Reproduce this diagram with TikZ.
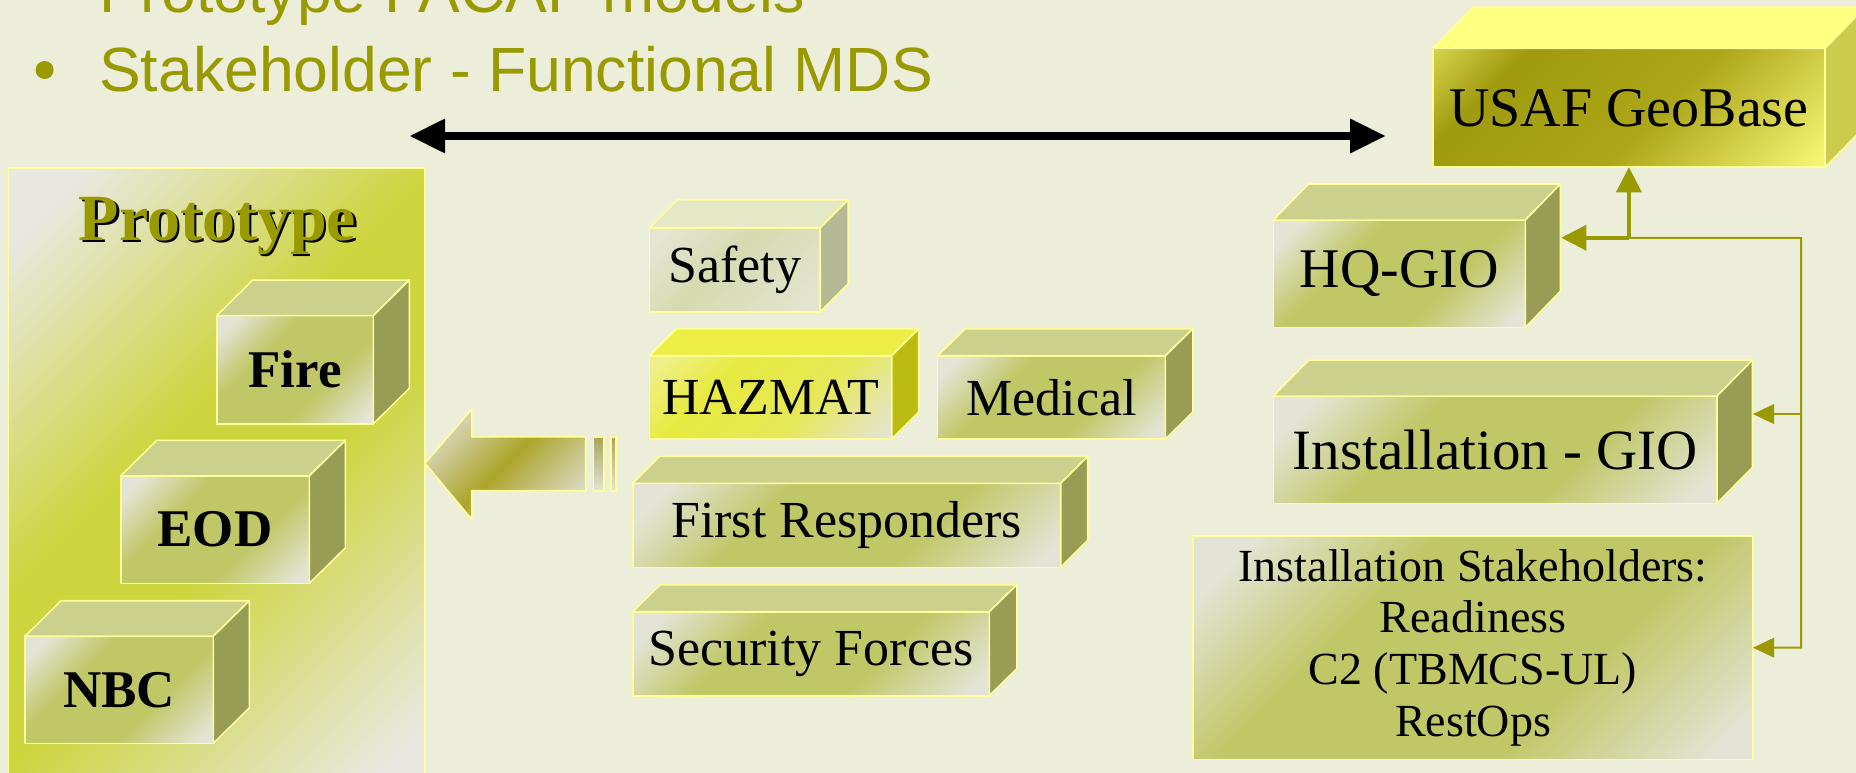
\documentclass[tikz,border=0pt]{standalone}
\usepackage{fontspec}
\setmainfont{Liberation Serif}
\newfontfamily\sansf{Liberation Sans}
\usetikzlibrary{arrows.meta,calc}

\definecolor{bg}{HTML}{EDEEDA}
\definecolor{olv}{HTML}{999900}
\definecolor{edge}{HTML}{FFFF99}
\definecolor{btop}{HTML}{CBD18C}
\definecolor{bside}{HTML}{989D56}
\definecolor{fl}{HTML}{E4E4D6}
\definecolor{fo}{HTML}{C0C766}
\definecolor{pl}{HTML}{E8E8E0}
\definecolor{py}{HTML}{CDD53E}
\definecolor{gtop}{HTML}{FFFF80}
\definecolor{gside}{HTML}{CDCB4E}
\definecolor{gl}{HTML}{D8D650}
\definecolor{gd}{HTML}{A09A0E}
\definecolor{gm}{HTML}{ACA618}
\definecolor{gy}{HTML}{F6F474}
\definecolor{htop}{HTML}{ECEE46}
\definecolor{hside}{HTML}{BABC12}
\definecolor{hl}{HTML}{EEF08A}
\definecolor{hy}{HTML}{E8EA40}
\definecolor{hm}{HTML}{E6E858}
\definecolor{stop}{HTML}{E4E8C6}
\definecolor{sside}{HTML}{B4B894}
\definecolor{sl}{HTML}{E4E6D2}
\definecolor{sm}{HTML}{D6DAB0}
\definecolor{al}{HTML}{DCDCCC}
\definecolor{ao}{HTML}{ADA52A}
\definecolor{bartop}{HTML}{A8A45C}

\pgfdeclarehorizontalshading{frontsh}{100bp}{color(0bp)=(fl); color(20bp)=(fl); color(37bp)=(fo); color(62bp)=(fo); color(82bp)=(fl); color(100bp)=(fl)}
\pgfdeclarehorizontalshading{panelsh}{100bp}{color(0bp)=(pl); color(20bp)=(pl); color(44bp)=(py); color(56bp)=(py); color(82bp)=(pl); color(100bp)=(pl)}
\pgfdeclarehorizontalshading{geosh}{100bp}{color(0bp)=(gl); color(14bp)=(gl); color(28bp)=(gd); color(55bp)=(gm); color(84bp)=(gy); color(100bp)=(gy)}
\pgfdeclarehorizontalshading{hazsh}{100bp}{color(0bp)=(hl); color(18bp)=(hl); color(35bp)=(hy); color(60bp)=(hm); color(84bp)=(fl); color(100bp)=(fl)}
\pgfdeclarehorizontalshading{safsh}{100bp}{color(0bp)=(sl); color(20bp)=(sl); color(45bp)=(sm); color(84bp)=(sl); color(100bp)=(sl)}
\pgfdeclarehorizontalshading{arrowsh}{100bp}{color(0bp)=(al); color(22bp)=(al); color(50bp)=(ao); color(78bp)=(al); color(100bp)=(al)}

\newcommand\cubefaces[5]{%
  \filldraw[face, fill=#4] (#1.north west) -- ++(#2,#3) -- ($(#1.north east)+(#2,#3)$) -- (#1.north east) -- cycle;
  \filldraw[face, fill=#5] (#1.north east) -- ++(#2,#3) -- ($(#1.south east)+(#2,#3)$) -- (#1.south east) -- cycle;
}

\begin{document}
\begin{tikzpicture}[x=1pt,y=-1pt,
  face/.style={draw=edge, line width=1.6pt, line join=round},
  front/.style={draw=edge, line width=1.6pt, shade, shading=frontsh, shading angle=-45, inner sep=0pt, outer sep=0pt, text=black},
  titletext/.style={anchor=base west, inner sep=0pt, text=olv, font=\sansf\fontsize{62.5}{62.5}\selectfont},
  midlbl/.style={font=\fontsize{52}{52}\selectfont},
  leftlbl/.style={font=\fontsize{53}{53}\selectfont\bfseries},
  rightlbl/.style={font=\fontsize{56}{56}\selectfont},
  conthick/.style={draw=olv, line width=4pt, -{Triangle[length=25pt,width=26pt,line width=0pt]}},
  conthin/.style={draw=olv, line width=2pt, -{Triangle[length=21pt,width=20pt,line width=0pt]}},
  protolbl/.style={anchor=base, inner sep=0pt, font=\fontsize{66}{66}\selectfont\bfseries}
]
\useasboundingbox (0,0) rectangle (1856,773);
\clip (0,0) rectangle (1856,773);
\fill[bg] (0,0) rectangle (1856,773);

% title lines
\node[titletext] (t1) at (99,13) {Prototype FACAF models};
\node[titletext] (t2) at (99,91.7) {Stakeholder - Functional MDS};
\node[circle, fill=olv, minimum size=18pt, inner sep=0pt] (bul) at (44.6,70) {};

% double arrow
\coordinate (da) at (410,136);
\coordinate (db) at (1385,136);
\draw[line width=8pt, {Triangle[length=35pt,width=35pt,line width=0pt]}-{Triangle[length=35pt,width=35pt,line width=0pt]}] (da) -- (db);

% prototype panel
\node[draw=edge, line width=1.6pt, shade, shading=panelsh, shading angle=-45, minimum width=416.7pt, minimum height=612pt, anchor=north west, inner sep=0pt, outer sep=0pt] (panel) at (8.3,167.8) {};
\node[protolbl, text=black] (protoS) at (220,242.5) {Prototype};
\node[protolbl, text=olv] (proto) at (217.5,240) {Prototype};

% left boxes
\node[front, leftlbl, minimum width=156.6pt, minimum height=108.3pt] (fire) at (295,369.75) {Fire};
\cubefaces{fire}{36}{-35.5}{btop}{bside}
\node[front, leftlbl, minimum width=188.6pt, minimum height=107.5pt] (eod) at (215,529.65) {EOD};
\cubefaces{eod}{36}{-35.5}{btop}{bside}
\node[front, leftlbl, minimum width=188.3pt, minimum height=107.1pt] (nbc) at (119.2,689.75) {NBC};
\cubefaces{nbc}{36}{-35.5}{btop}{bside}

% big block arrow
\shadedraw[draw=edge, line width=1.6pt, line join=round, shading=arrowsh, shading angle=-45]
  (425,463.3) -- (471.7,409.3) -- (471.7,436.7) -- (585.7,436.7) -- (585.7,490.7) -- (471.7,490.7) -- (471.7,519.3) -- cycle;
\shadedraw[draw=edge, line width=1.6pt, top color=bartop, bottom color=fl] (593.3,436.7) rectangle (604,490.7);
\shadedraw[draw=edge, line width=1.6pt, top color=bartop, bottom color=fl] (610.7,436.7) rectangle (616,490.7);

% middle boxes
\node[front, midlbl, shading=safsh, minimum width=170.7pt, minimum height=84pt] (safety) at (734.9,269.7) {Safety};
\cubefaces{safety}{28}{-28}{stop}{sside}
\node[front, midlbl, shading=hazsh, minimum width=242.2pt, minimum height=83.3pt] (hazmat) at (770.6,397.4) {HAZMAT};
\cubefaces{hazmat}{27}{-27}{htop}{hside}
\node[front, midlbl, minimum width=227.7pt, minimum height=83.3pt] (medical) at (1051.5,397.4) {Medical};
\cubefaces{medical}{27.5}{-27}{btop}{bside}
\node[front, midlbl, minimum width=428pt, minimum height=84pt] (first) at (846.7,525.3) {First Responders};
\cubefaces{first}{27}{-27}{btop}{bside}
\node[front, midlbl, minimum width=356.6pt, minimum height=84pt] (security) at (811,653.7) {Security Forces};
\cubefaces{security}{27.5}{-27}{btop}{bside}

% right boxes
\node[front, rightlbl, shading=geosh, minimum width=392.3pt, minimum height=119pt] (geo) at (1628.9,107.8) {USAF GeoBase};
\cubefaces{geo}{40}{-41}{gtop}{gside}
\node[front, rightlbl, minimum width=251.9pt, minimum height=107.3pt] (hq) at (1399.4,273.7) {HQ-GIO};
\cubefaces{hq}{35}{-36}{btop}{bside}
\node[front, font=\fontsize{57}{57}\selectfont, minimum width=443.6pt, minimum height=107.3pt] (ig) at (1495.2,449.7) {Installation - GIO};
\cubefaces{ig}{35.5}{-36}{btop}{bside}
\node[front, align=center, font=\fontsize{46}{51.7}\selectfont, minimum width=560pt, minimum height=223.3pt] (is) at (1473,647.7) {Installation Stakeholders:\\Readiness\\C2 (TBMCS-UL)\\RestOps};

% connectors
\coordinate (hqt) at ($(hq.north east)+(36,17.7)$);
\coordinate (igt) at ($(ig.north east)+(36,18)$);
\coordinate (j1) at (geo.south |- hqt);
\coordinate (j3) at (1801,238);
\draw[conthin] (j1) -- (j3) |- (is.east);
\draw[conthin] (j3 |- igt) -- (igt);
\draw[conthick] (j1) -- (geo.south);
\draw[conthick] (j1) -- (hqt);
\end{tikzpicture}
\end{document}
